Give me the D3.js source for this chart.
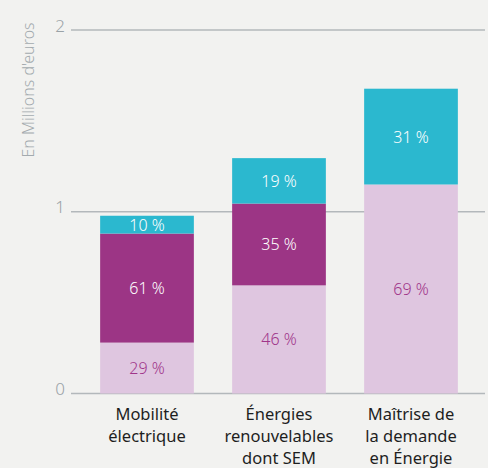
<!DOCTYPE html>
<html>
<head>
<meta charset="utf-8">
<script src="https://cdn.jsdelivr.net/npm/d3@7"></script>
<style>
  html, body { margin: 0; padding: 0; background: #f2f2f0; }
  svg { display: block; font-family: "Noto Sans", sans-serif; }
</style>
</head>
<body>
<svg id="chart" width="488" height="468"></svg>
<script>
// data (millions of euros)
var categories = [
  ["Mobilité", "électrique"],
  ["Énergies", "renouvelables", "dont SEM"],
  ["Maîtrise de", "la demande", "en Énergie"]
];
var pinkVals   = [0.28, 0.595, 1.15];
var purpleVals = [0.60, 0.45, 0];
var cyanVals   = [0.098, 0.25, 0.527];

var pinkPct   = [29, 46, 69];
var purplePct = [61, 35, null];
var cyanPct   = [10, 19, 31];

var yTicks = [0, 1, 2];

var colors = { pink: "#dfc6e0", purple: "#9c3585", cyan: "#2bb8cf" };

var svg = d3.select("#chart");

// build rows for stacking
var rows = categories.map(function(c, i) {
  return { idx: i, pink: pinkVals[i], purple: purpleVals[i], cyan: cyanVals[i] };
});
var pcts = { pink: pinkPct, purple: purplePct, cyan: cyanPct };

var x = d3.scaleBand()
    .domain(d3.range(categories.length))
    .range([81, 477])
    .paddingInner(0.29)
    .paddingOuter(0.145);

var y = d3.scaleLinear()
    .domain([0, 2])
    .range([393.5, 30]);

// gridlines + tick labels
var grid = svg.append("g");
grid.selectAll("line")
    .data(yTicks)
  .enter().append("line")
    .attr("x1", 71)
    .attr("x2", 485)
    .attr("y1", function(d) { return y(d); })
    .attr("y2", function(d) { return y(d); })
    .attr("stroke", "#b3b8bb")
    .attr("stroke-width", 1.5);

grid.selectAll("text")
    .data(yTicks)
  .enter().append("text")
    .attr("x", 60)
    .attr("y", function(d) { return y(d) - 5; })
    .attr("text-anchor", "middle")
    .attr("dominant-baseline", "central")
    .attr("fill", "#9aa2a7")
    .style("font-size", "17px")
    .style("font-weight", 300)
    .text(function(d) { return d; });

// y axis title
svg.append("text")
    .attr("transform", "translate(28,90) rotate(-90)")
    .attr("text-anchor", "middle")
    .attr("dominant-baseline", "central")
    .attr("fill", "#a3aaae")
    .style("font-size", "16px")
    .style("font-weight", 300)
    .text("En Millions d'euros");

// stacked bars
var keys = ["pink", "purple", "cyan"];
var stacked = d3.stack().keys(keys)(rows);

var layers = svg.selectAll("g.layer")
    .data(stacked)
  .enter().append("g")
    .attr("class", "layer");

layers.selectAll("rect")
    .data(function(s) { return s.filter(function(d) { return d[1] > d[0]; }); })
  .enter().append("rect")
    .attr("x", function(d) { return x(d.data.idx); })
    .attr("width", x.bandwidth())
    .attr("y", function(d) { return y(d[1]); })
    .attr("height", function(d) { return y(d[0]) - y(d[1]); })
    .attr("fill", function(d) { return colors[d3.select(this.parentNode).datum().key]; });

// percent labels
layers.each(function(s) {
  var key = s.key;
  d3.select(this).selectAll("text")
      .data(s.filter(function(d) { return d[1] > d[0] && pcts[key][d.data.idx] != null; }))
    .enter().append("text")
      .attr("x", function(d) { return x(d.data.idx) + x.bandwidth() / 2; })
      .attr("y", function(d) { return (y(d[0]) + y(d[1])) / 2; })
      .attr("text-anchor", "middle")
      .attr("dominant-baseline", "central")
      .attr("fill", key === "pink" ? "#a0358a" : "#ffffff")
      .style("font-size", "16px")
      .style("font-weight", 300)
      .text(function(d) { return pcts[key][d.data.idx] + " %"; });
});

// category labels
var cats = svg.selectAll("text.cat")
    .data(categories)
  .enter().append("text")
    .attr("class", "cat")
    .attr("text-anchor", "middle")
    .attr("fill", "#1e1e1e")
    .style("font-size", "16.5px");

cats.selectAll("tspan")
    .data(function(d, i) { return d.map(function(t) { return { t: t, i: i }; }); })
  .enter().append("tspan")
    .attr("x", function(d) { return x(d.i) + x.bandwidth() / 2; })
    .attr("y", function(d, j) { return 420 + j * 22; })
    .text(function(d) { return d.t; });
</script>
</body>
</html>
